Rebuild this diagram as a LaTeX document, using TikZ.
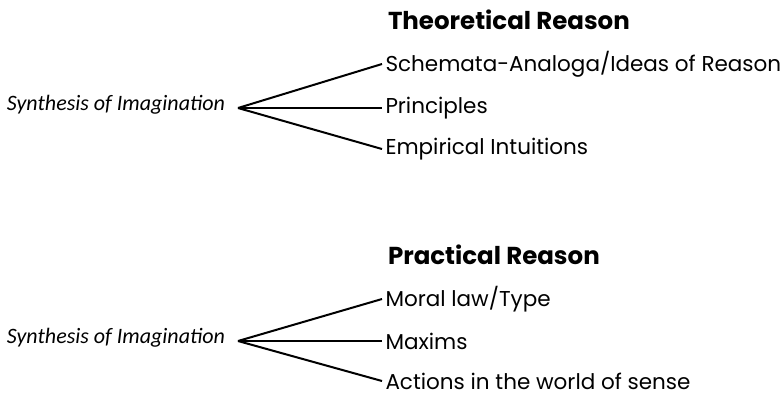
\documentclass[tikz,border=0pt]{standalone}
\usepackage{fontspec}
\setmainfont{Poppins}
\newfontfamily\synfont{Carlito}

\begin{document}
\begin{tikzpicture}[x=1pt, y=-1pt, line width=2pt,
  item/.style={anchor=west, inner sep=2.5pt, font=\fontsize{21.5}{24}\selectfont},
  head/.style={anchor=west, inner sep=0pt, font=\bfseries\fontsize{24.5}{28}\selectfont},
  syn/.style={anchor=east, inner sep=0pt, font=\synfont\itshape\fontsize{22}{26}\selectfont}]
  \useasboundingbox (0,0) rectangle (781,400);
  % Theoretical Reason
  \coordinate (T) at (238,108);
  \node[head] (theo) at (387,20) {Theoretical Reason};
  \node[syn] (synT) at (226,105) {Synthesis of Imagination};
  \node[item] (schem) at (382,64) {Schemata-Analoga/Ideas of Reason};
  \node[item] (princ) at (382,108) {Principles};
  \node[item] (empir) at (382,149) {Empirical Intuitions};
  \draw (T)--(schem.west);
  \draw (T)--(princ.west);
  \draw (T)--(empir.west);
  % Practical Reason
  \coordinate (P) at (238,341);
  \node[head] (prac) at (387,255) {Practical Reason};
  \node[syn] (synP) at (226,338) {Synthesis of Imagination};
  \node[item] (moral) at (382,299) {Moral law/Type};
  \node[item] (maxim) at (382,341) {Maxims};
  \node[item] (actio) at (382,381) {Actions in the world of sense};
  \draw (P)--(moral.west);
  \draw (P)--(maxim.west);
  \draw (P)--(actio.west);
\end{tikzpicture}
\end{document}
